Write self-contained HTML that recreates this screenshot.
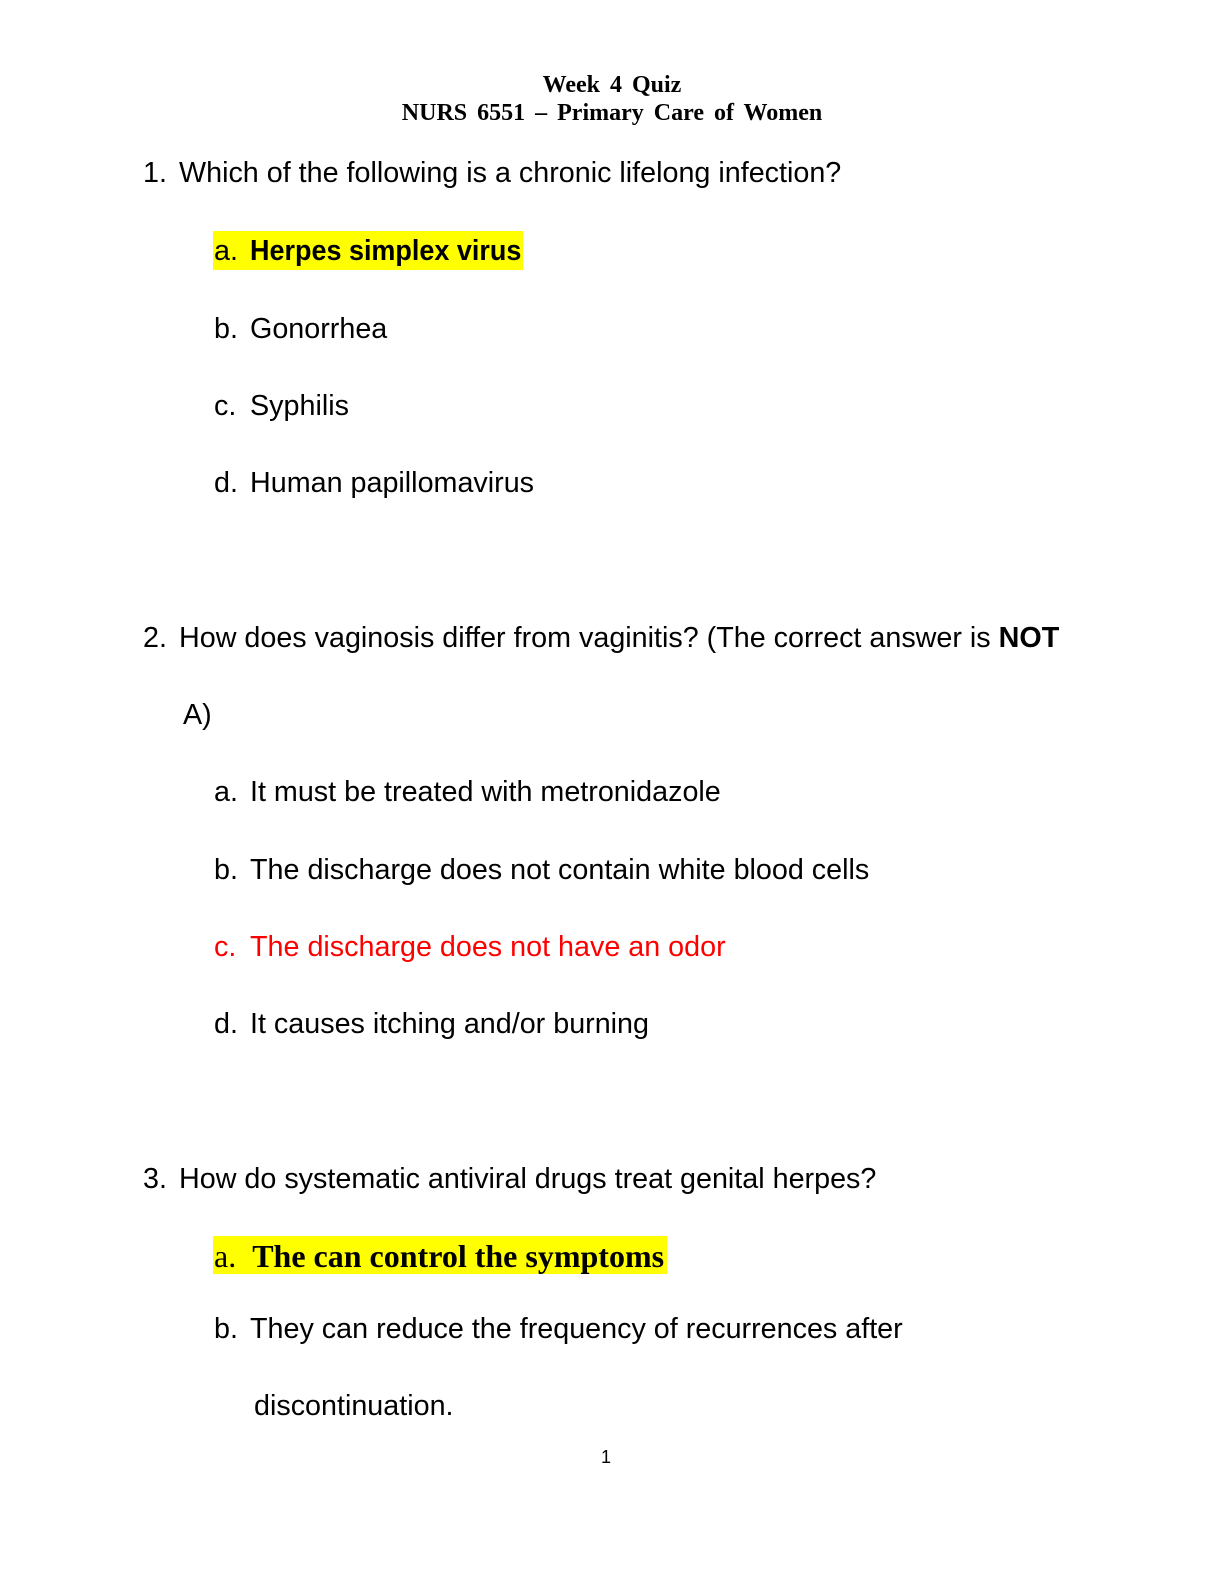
<!DOCTYPE html>
<html><head><meta charset="utf-8"><style>
html,body{margin:0;padding:0;background:#fff;}
body{width:1224px;height:1584px;position:relative;overflow:hidden;font-family:"Liberation Sans",sans-serif;color:#000;}
.t{position:absolute;white-space:nowrap;font-size:29px;line-height:34px;transform:scaleX(0.99);transform-origin:left center;}
.h{position:absolute;left:0;width:1224px;text-align:center;font-family:"Liberation Serif",serif;font-weight:bold;font-size:24px;line-height:28px;word-spacing:4px;}
.hl{position:absolute;background:#ffff00;}
.r{color:#ff0000;}
</style></head><body>
<div class="h" style="top:71px">Week 4 Quiz</div>
<div class="h" style="top:99px">NURS 6551 – Primary Care of Women</div>

<div class="t" style="left:143px;top:156px">1.</div><div class="t" style="left:179px;top:156px">Which of the following is a chronic lifelong infection?</div>
<div class="hl" style="left:213px;top:231px;width:310px;height:39px"></div>
<div class="t" style="left:214px;top:234px">a.</div><div class="t" style="left:250px;top:234px;transform:scaleX(0.93)"><b>Herpes simplex virus</b></div>
<div class="t" style="left:214px;top:312px">b.</div><div class="t" style="left:250px;top:312px">Gonorrhea</div>
<div class="t" style="left:214px;top:389px">c.</div><div class="t" style="left:250px;top:389px">Syphilis</div>
<div class="t" style="left:214px;top:466px">d.</div><div class="t" style="left:250px;top:466px">Human papillomavirus</div>

<div class="t" style="left:143px;top:621px">2.</div><div class="t" style="left:179px;top:621px">How does vaginosis differ from vaginitis? (The correct answer is <b>NOT</b></div>
<div class="t" style="left:183px;top:698px">A)</div>
<div class="t" style="left:214px;top:775px">a.</div><div class="t" style="left:250px;top:775px">It must be treated with metronidazole</div>
<div class="t" style="left:214px;top:853px">b.</div><div class="t" style="left:250px;top:853px">The discharge does not contain white blood cells</div>
<div class="t r" style="left:214px;top:930px">c.</div><div class="t r" style="left:250px;top:930px">The discharge does not have an odor</div>
<div class="t" style="left:214px;top:1007px">d.</div><div class="t" style="left:250px;top:1007px">It causes itching and/or burning</div>

<div class="t" style="left:143px;top:1162px">3.</div><div class="t" style="left:179px;top:1162px">How do systematic antiviral drugs treat genital herpes?</div>
<div class="hl" style="left:213px;top:1236px;width:454px;height:38px"></div>
<div class="t" style="left:214px;top:1239px;font-family:'Liberation Serif',serif;font-size:32px;transform:none">a.&nbsp; <b>The can control the symptoms</b></div>
<div class="t" style="left:214px;top:1312px">b.</div><div class="t" style="left:250px;top:1312px">They can reduce the frequency of recurrences after</div>
<div class="t" style="left:254px;top:1389px">discontinuation.</div>

<div style="position:absolute;left:0;width:1212px;text-align:center;top:1447px;font-size:18px;line-height:20px;">1</div>
</body></html>
